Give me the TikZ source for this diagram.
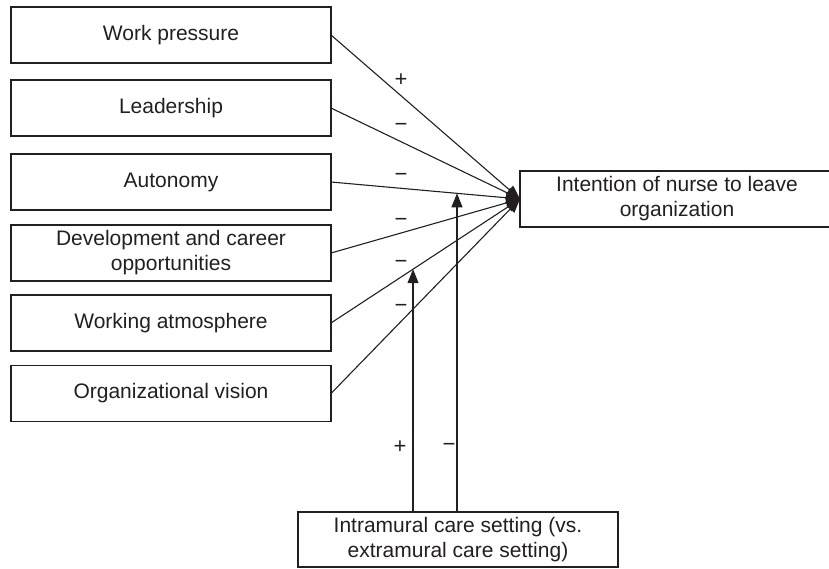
\documentclass[tikz,border=0pt]{standalone}
\usepackage{fontspec}
\setmainfont{Liberation Sans}
\usetikzlibrary{arrows.meta,calc}
\definecolor{ink}{HTML}{231F20}
\begin{document}
\begin{tikzpicture}[x=1pt,y=-1pt,
  every node/.style={text=ink},
  factor/.style={draw=ink,line width=1.3pt,minimum width=320pt,minimum height=56pt,
    inner sep=0pt,outer sep=0pt,align=center,font=\fontsize{21}{25}\selectfont},
  link/.style={draw=ink,line width=1.1pt,-{Triangle[length=14pt,width=11pt]}},
  sign/.style={font=\fontsize{22}{24}\selectfont,inner sep=0pt}]
\useasboundingbox (0,0) rectangle (829,568);

% predictors
\node[factor] (b1) at (171,35)    {Work pressure};
\node[factor] (b2) at (171,108)   {Leadership};
\node[factor] (b3) at (171,182)   {Autonomy};
\node[factor] (b4) at (171,253)   {Development and career\\opportunities};
\node[factor] (b5) at (171,323)   {Working atmosphere};
\node[factor] (b6) at (171,393.5) {Organizational vision};

% outcome and moderator
\node[factor,minimum width=314pt] (tgt) at (677,199) {Intention of nurse to leave\\organization};
\node[factor,minimum height=55pt] (mod) at (458,539.5) {Intramural care setting (vs.\\extramural care setting)};

% direct effects
\foreach \b in {b1,b2,b3,b4,b5,b6}
  \draw[link] (\b.east) -- (tgt.west);

% moderation arrows land on the paths they moderate
\coordinate (m1) at (intersection of 413,0--413,600 and b5.east--tgt.west);
\coordinate (m2) at (intersection of 457,0--457,600 and b3.east--tgt.west);
\draw[link] (m1 |- mod.north) -- (m1);
\draw[link] (m2 |- mod.north) -- (m2);

% signs
\node[sign] (s1) at (401,80)  {+};
\node[sign] (s2) at (401,127) {−};
\node[sign] (s3) at (401,177) {−};
\node[sign] (s4) at (401,222) {−};
\node[sign] (s5) at (401,264) {−};
\node[sign] (s6) at (401,308) {−};
\node[sign] (s7) at (400,447) {+};
\node[sign] (s8) at (449,447) {−};
\end{tikzpicture}
\end{document}
